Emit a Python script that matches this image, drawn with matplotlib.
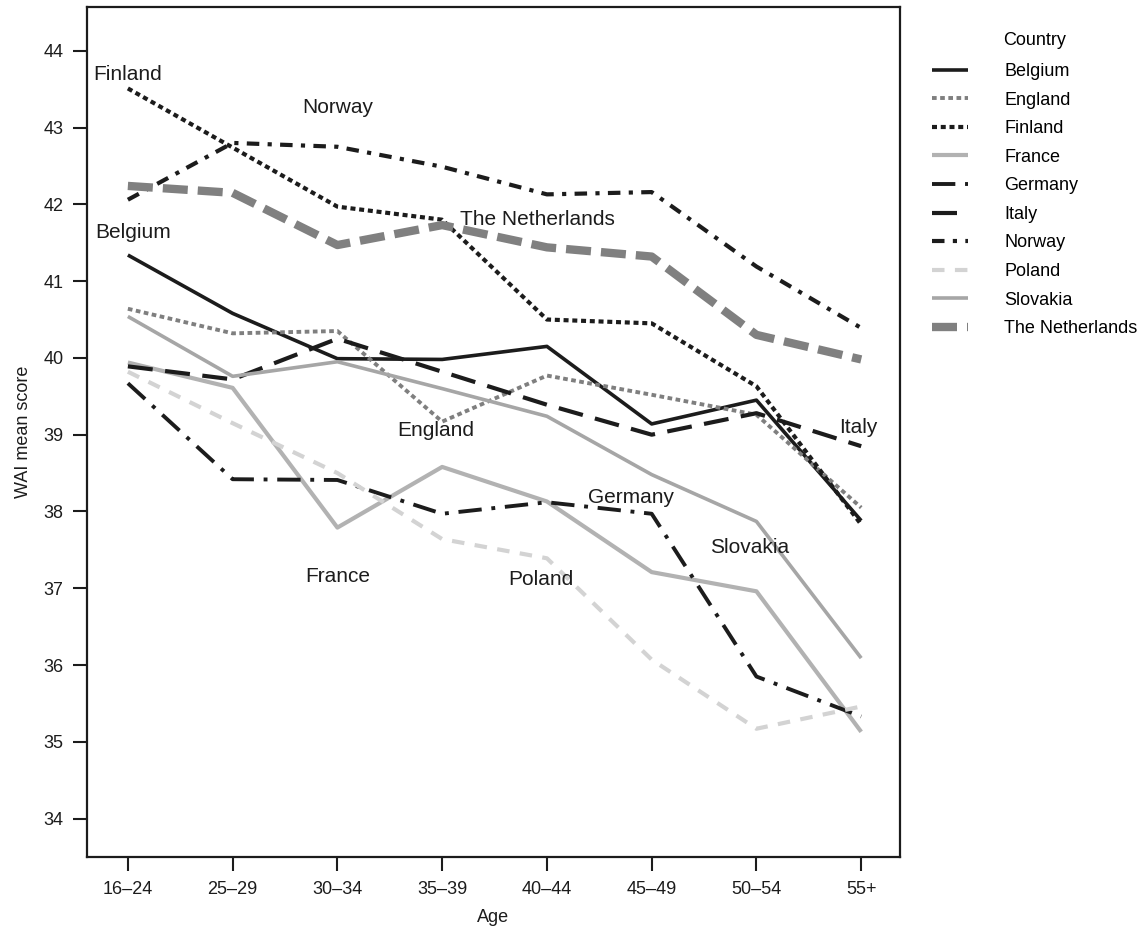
import numpy as np
import matplotlib
matplotlib.use("Agg")
import matplotlib.pyplot as plt

plt.rcParams['font.family'] = ['Liberation Sans', 'DejaVu Sans']

# age groups on the x axis
ages = ['16\u201324', '25\u201329', '30\u201334', '35\u201339',
        '40\u201344', '45\u201349', '50\u201354', '55+']

# WAI mean score per country
belgium     = [41.34, 40.58, 39.99, 39.98, 40.15, 39.14, 39.45, 37.88]
england     = [40.64, 40.32, 40.35, 39.17, 39.77, 39.52, 39.26, 38.05]
finland     = [43.51, 42.74, 41.97, 41.80, 40.50, 40.45, 39.63, 37.83]
france      = [39.94, 39.61, 37.79, 38.58, 38.13, 37.21, 36.96, 35.13]
germany     = [39.67, 38.42, 38.41, 37.97, 38.12, 37.97, 35.85, 35.33]
italy       = [39.89, 39.72, 40.25, 39.82, 39.39, 39.00, 39.28, 38.85]
norway      = [42.06, 42.80, 42.75, 42.49, 42.13, 42.16, 41.19, 40.39]
poland      = [39.82, 39.15, 38.50, 37.64, 37.39, 36.07, 35.17, 35.46]
slovakia    = [40.54, 39.76, 39.95, 39.60, 39.24, 38.48, 37.87, 36.09]
netherlands = [42.24, 42.15, 41.47, 41.73, 41.44, 41.32, 40.30, 39.98]

series = [
    ('Belgium', belgium, '#1c1c1c', 2.6, '-'),
    ('England', england, '#7f7f7f', 2.8, (0, (1.2, 0.9))),
    ('Finland', finland, '#1c1c1c', 3.0, (0, (1.2, 0.9))),
    ('France', france, '#b2b2b2', 3.0, '-'),
    ('Germany', germany, '#1c1c1c', 2.8, (0, (6, 2.5, 1, 2.5))),
    ('Italy', italy, '#1c1c1c', 3.0, (0, (6, 3))),
    ('Norway', norway, '#1c1c1c', 3.0, (0, (3, 2, 1, 2))),
    ('Poland', poland, '#d3d3d3', 3.0, (0, (3, 2.5))),
    ('Slovakia', slovakia, '#a6a6a6', 2.6, '-'),
    ('The Netherlands', netherlands, '#808080', 6.0, (0, (3, 1.2))),
]

fig = plt.figure(figsize=(11.45, 9.38), dpi=100)
ax = fig.add_axes([0.0760, 0.0864, 0.7100, 0.9061])

x = np.arange(len(ages))
for name, vals, col, lw, ls in series:
    ax.plot(x, vals, color=col, lw=lw, linestyle=ls, label=name,
            solid_capstyle='butt', dash_capstyle='butt')

# direct labels inside the panel
lab_kw = dict(fontsize=15, color='#1c1c1c', va='center')
ax.text(-0.33, 43.69, 'Finland', ha='left', **lab_kw)
ax.text(2.0, 43.26, 'Norway', ha='center', **lab_kw)
ax.text(0.05, 41.63, 'Belgium', ha='center', **lab_kw)
ax.text(3.91, 41.80, 'The Netherlands', ha='center', **lab_kw)
ax.text(2.94, 39.05, 'England', ha='center', **lab_kw)
ax.text(2.0, 37.15, 'France', ha='center', **lab_kw)
ax.text(4.8, 38.18, 'Germany', ha='center', **lab_kw)
ax.text(3.94, 37.11, 'Poland', ha='center', **lab_kw)
ax.text(5.93, 37.53, 'Slovakia', ha='center', **lab_kw)
ax.text(6.97, 39.09, 'Italy', ha='center', **lab_kw)

ax.set_xlim(-0.39, 7.37)
ax.set_ylim(33.5, 44.57)
ax.set_xticks(x)
ax.set_xticklabels(ages)
ax.set_yticks(np.arange(34, 45, 1))
ax.tick_params(direction='out', length=10, width=1.5, labelsize=13,
               colors='#1c1c1c', pad=7)
for s in ax.spines.values():
    s.set_linewidth(1.6)
    s.set_color('#1c1c1c')

ax.set_xlabel('Age', fontsize=13, color='#1c1c1c', labelpad=8)
ax.set_ylabel('WAI mean score', fontsize=13, color='#1c1c1c', labelpad=8,
              family=['Liberation Sans Narrow', 'Liberation Sans'])

leg = ax.legend(loc='upper left', bbox_to_anchor=(0.800, 0.983),
                bbox_transform=fig.transFigure, frameon=False,
                title='Country', fontsize=13, title_fontsize=13,
                handlelength=2.0, handletextpad=2.0, labelspacing=0.64)
leg._legend_box.sep = 10

fig.savefig('out.png', dpi=100)
